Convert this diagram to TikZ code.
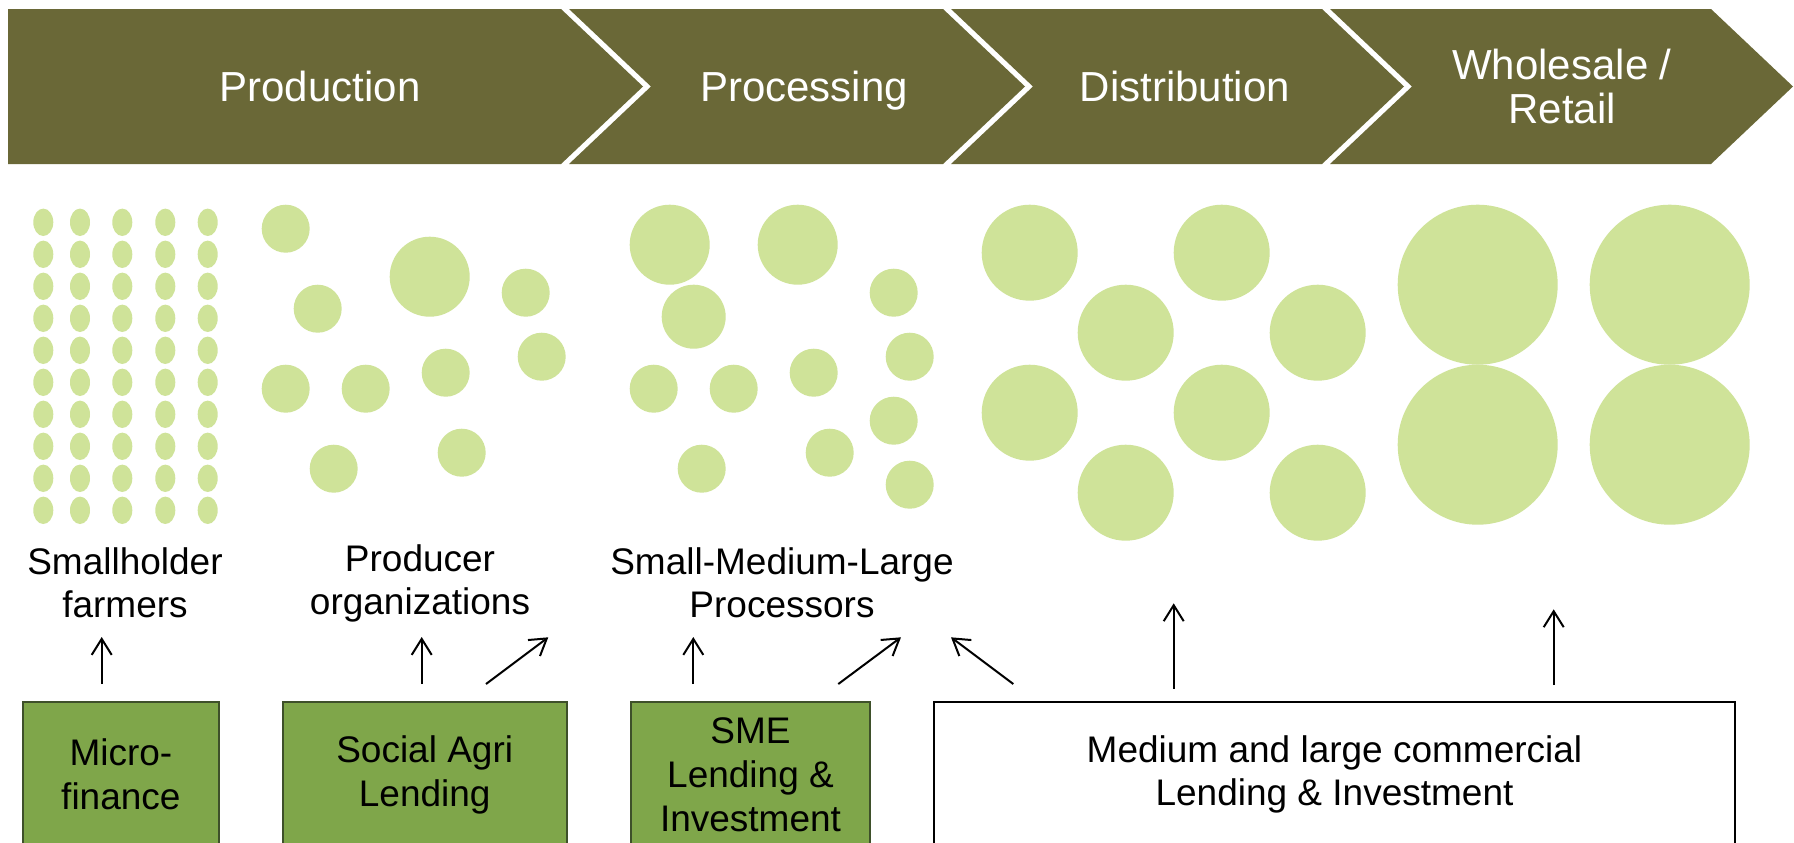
\documentclass[tikz,border=0pt]{standalone}
\usepackage{fontspec}
\setmainfont{Liberation Sans}
\usetikzlibrary{arrows.meta}
\definecolor{chevfill}{RGB}{106,104,55}
\definecolor{dotgreen}{RGB}{207,227,153}
\definecolor{boxgreen}{RGB}{127,166,74}
\definecolor{boxline}{RGB}{62,80,42}
\tikzset{
  chev/.style={fill=chevfill},
  chevtxt/.style={text=white, align=center, inner sep=0pt, font=\fontsize{21}{22}\selectfont},
  lbl/.style={text=black, align=center, inner sep=0pt, font=\fontsize{18.5}{21.5}\selectfont},
  dot/.style={fill=dotgreen},
  gbox/.style={draw=boxline, fill=boxgreen, line width=1pt, anchor=north west, align=center, inner sep=0pt, font=\fontsize{18.5}{22}\selectfont},
  wbox/.style={draw=black, fill=white, line width=1pt, anchor=north west, align=center, inner sep=0pt, font=\fontsize{18.5}{21.5}\selectfont},
  arr/.style={line width=1pt, -{Straight Barb[length=8pt,width=10pt]}}
}
\begin{document}
\begin{tikzpicture}[x=0.5pt,y=-0.5pt]
\useasboundingbox (0,0) rectangle (1794,842);
\clip (0,0) rectangle (1794,842);
\fill[white] (0,0) rectangle (1794,842);
% chevrons
\fill[chev] (8,9) -- (561,9) -- (643,86.5) -- (561,164) -- (8,164) -- cycle;
\fill[chev] (569,9) -- (943,9) -- (1025,86.5) -- (943,164) -- (569,164) -- (651,86.5) -- cycle;
\fill[chev] (951,9) -- (1322,9) -- (1404,86.5) -- (1322,164) -- (951,164) -- (1033,86.5) -- cycle;
\fill[chev] (1330,9) -- (1711,9) -- (1793,86.5) -- (1711,164) -- (1330,164) -- (1412,86.5) -- cycle;
\node[chevtxt, anchor=base] (t1) at (320,101.3) {Production};
\node[chevtxt, anchor=base] (t2) at (804,101.3) {Processing};
\node[chevtxt, anchor=base] (t3) at (1185,101.3) {Distribution};
\node[chevtxt] (t4) at (1562,86) {Wholesale /\\Retail};
% smallholder dots
\foreach \x in {43.3,80,122.3,165.3,207.7}{
  \foreach \k in {0,...,9}{
    \fill[dot] (\x,222.3+32*\k) ellipse [x radius=5pt, y radius=6.85pt];
  }
}
% producer organizations
\foreach \x/\y/\r in {285.7/228.7/12, 429.7/276.7/20, 317.7/308.7/12, 525.7/292.7/12, 541.7/356.7/12,
  285.7/388.7/12, 365.7/388.7/12, 445.7/372.7/12, 333.7/468.7/12, 461.7/452.7/12}
  \fill[dot] (\x,\y) circle [radius=\r pt];
% processors
\foreach \x/\y/\r in {669.7/244.7/20, 797.7/244.7/20, 693.7/316.7/16, 893.7/292.7/12, 909.7/356.7/12,
  653.7/388.7/12, 733.7/388.7/12, 813.7/372.7/12, 893.7/420.7/12, 701.7/468.7/12, 829.7/452.7/12, 909.7/484.7/12}
  \fill[dot] (\x,\y) circle [radius=\r pt];
% distribution
\foreach \x/\y in {1029.7/252.7, 1221.7/252.7, 1125.7/332.7, 1317.7/332.7,
  1029.7/412.7, 1221.7/412.7, 1125.7/492.7, 1317.7/492.7}
  \fill[dot] (\x,\y) circle [radius=24pt];
% wholesale
\foreach \x/\y in {1477.7/284.7, 1669.7/284.7, 1477.7/444.7, 1669.7/444.7}
  \fill[dot] (\x,\y) circle [radius=40pt];
% labels
\node[lbl] (l1) at (125,583) {Smallholder\\farmers};
\node[lbl] (l2) at (420,583) {Producer\\organizations};
\node[lbl] (l3) at (782,583) {Small-Medium-Large\\Processors};
% boxes
\node[gbox, minimum width=98.2pt, minimum height=73pt] (b1) at (21.7,700.7) {Micro-\\finance};
\node[gbox, minimum width=142pt, minimum height=73pt] (b2) at (281.7,700.7) {Social Agri\\Lending};
\node[gbox, minimum width=119.5pt, minimum height=73pt] (b3) at (630,700.7) {SME\\Lending \&\\Investment};
\node[wbox, minimum width=400.5pt, minimum height=73pt] (b4) at (933,700.7) {Medium and large commercial\\Lending \& Investment};
% arrows
\coordinate (s1) at (101.7,684);  \coordinate (e1) at (101.7,637);
\coordinate (s2) at (421.7,684);  \coordinate (e2) at (421.7,637);
\coordinate (s3) at (486,684);    \coordinate (e3) at (548.3,637.3);
\coordinate (s4) at (693.3,684);  \coordinate (e4) at (693.3,637);
\coordinate (s5) at (838.3,684);  \coordinate (e5) at (901,637.3);
\coordinate (s6) at (1013.3,684); \coordinate (e6) at (951,637.3);
\coordinate (s7) at (1173.7,688.7); \coordinate (e7) at (1173.7,603.3);
\coordinate (s8) at (1553.7,685); \coordinate (e8) at (1553.7,609.3);
\foreach \i in {1,...,8} \draw[arr] (s\i) -- (e\i);
\end{tikzpicture}
\end{document}
